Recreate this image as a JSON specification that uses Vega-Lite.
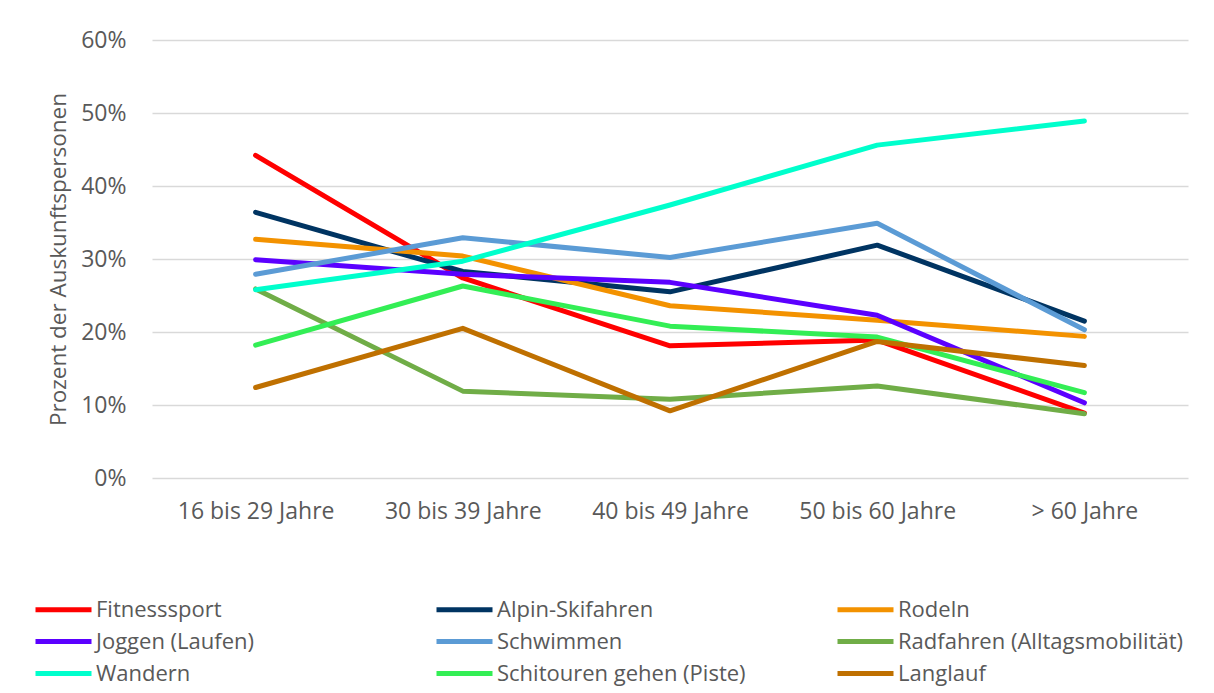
{
  "$schema": "https://vega.github.io/schema/vega-lite/v6.json",
  "width": 1036,
  "height": 438,
  "autosize": {"type": "none"},
  "padding": {"left": 152, "top": 40, "right": 26, "bottom": 215},
  "background": "white",
  "config": {
    "view": {"stroke": null},
    "font": "Open Sans",
    "axis": {"labelColor": "#595959", "titleColor": "#595959", "labelFont": "Open Sans", "titleFont": "Open Sans"},
    "legend": {"labelColor": "#595959", "labelFont": "Open Sans"}
  },
  "data": {
    "values": [
      {"Sport": "Fitnesssport", "Alter": "16 bis 29 Jahre", "Prozent": 44.2},
      {"Sport": "Fitnesssport", "Alter": "30 bis 39 Jahre", "Prozent": 27.4},
      {"Sport": "Fitnesssport", "Alter": "40 bis 49 Jahre", "Prozent": 18.1},
      {"Sport": "Fitnesssport", "Alter": "50 bis 60 Jahre", "Prozent": 18.9},
      {"Sport": "Fitnesssport", "Alter": "> 60 Jahre", "Prozent": 8.9},
      {"Sport": "Alpin-Skifahren", "Alter": "16 bis 29 Jahre", "Prozent": 36.4},
      {"Sport": "Alpin-Skifahren", "Alter": "30 bis 39 Jahre", "Prozent": 28.3},
      {"Sport": "Alpin-Skifahren", "Alter": "40 bis 49 Jahre", "Prozent": 25.5},
      {"Sport": "Alpin-Skifahren", "Alter": "50 bis 60 Jahre", "Prozent": 31.9},
      {"Sport": "Alpin-Skifahren", "Alter": "> 60 Jahre", "Prozent": 21.5},
      {"Sport": "Rodeln", "Alter": "16 bis 29 Jahre", "Prozent": 32.7},
      {"Sport": "Rodeln", "Alter": "30 bis 39 Jahre", "Prozent": 30.4},
      {"Sport": "Rodeln", "Alter": "40 bis 49 Jahre", "Prozent": 23.6},
      {"Sport": "Rodeln", "Alter": "50 bis 60 Jahre", "Prozent": 21.6},
      {"Sport": "Rodeln", "Alter": "> 60 Jahre", "Prozent": 19.4},
      {"Sport": "Joggen (Laufen)", "Alter": "16 bis 29 Jahre", "Prozent": 29.9},
      {"Sport": "Joggen (Laufen)", "Alter": "30 bis 39 Jahre", "Prozent": 27.9},
      {"Sport": "Joggen (Laufen)", "Alter": "40 bis 49 Jahre", "Prozent": 26.8},
      {"Sport": "Joggen (Laufen)", "Alter": "50 bis 60 Jahre", "Prozent": 22.3},
      {"Sport": "Joggen (Laufen)", "Alter": "> 60 Jahre", "Prozent": 10.3},
      {"Sport": "Schwimmen", "Alter": "16 bis 29 Jahre", "Prozent": 27.9},
      {"Sport": "Schwimmen", "Alter": "30 bis 39 Jahre", "Prozent": 32.9},
      {"Sport": "Schwimmen", "Alter": "40 bis 49 Jahre", "Prozent": 30.2},
      {"Sport": "Schwimmen", "Alter": "50 bis 60 Jahre", "Prozent": 34.9},
      {"Sport": "Schwimmen", "Alter": "> 60 Jahre", "Prozent": 20.3},
      {"Sport": "Radfahren (Alltagsmobilität)", "Alter": "16 bis 29 Jahre", "Prozent": 25.9},
      {"Sport": "Radfahren (Alltagsmobilität)", "Alter": "30 bis 39 Jahre", "Prozent": 11.9},
      {"Sport": "Radfahren (Alltagsmobilität)", "Alter": "40 bis 49 Jahre", "Prozent": 10.8},
      {"Sport": "Radfahren (Alltagsmobilität)", "Alter": "50 bis 60 Jahre", "Prozent": 12.6},
      {"Sport": "Radfahren (Alltagsmobilität)", "Alter": "> 60 Jahre", "Prozent": 8.8},
      {"Sport": "Wandern", "Alter": "16 bis 29 Jahre", "Prozent": 25.8},
      {"Sport": "Wandern", "Alter": "30 bis 39 Jahre", "Prozent": 29.7},
      {"Sport": "Wandern", "Alter": "40 bis 49 Jahre", "Prozent": 37.4},
      {"Sport": "Wandern", "Alter": "50 bis 60 Jahre", "Prozent": 45.6},
      {"Sport": "Wandern", "Alter": "> 60 Jahre", "Prozent": 48.9},
      {"Sport": "Schitouren gehen (Piste)", "Alter": "16 bis 29 Jahre", "Prozent": 18.2},
      {"Sport": "Schitouren gehen (Piste)", "Alter": "30 bis 39 Jahre", "Prozent": 26.3},
      {"Sport": "Schitouren gehen (Piste)", "Alter": "40 bis 49 Jahre", "Prozent": 20.8},
      {"Sport": "Schitouren gehen (Piste)", "Alter": "50 bis 60 Jahre", "Prozent": 19.3},
      {"Sport": "Schitouren gehen (Piste)", "Alter": "> 60 Jahre", "Prozent": 11.7},
      {"Sport": "Langlauf", "Alter": "16 bis 29 Jahre", "Prozent": 12.4},
      {"Sport": "Langlauf", "Alter": "30 bis 39 Jahre", "Prozent": 20.5},
      {"Sport": "Langlauf", "Alter": "40 bis 49 Jahre", "Prozent": 9.2},
      {"Sport": "Langlauf", "Alter": "50 bis 60 Jahre", "Prozent": 18.7},
      {"Sport": "Langlauf", "Alter": "> 60 Jahre", "Prozent": 15.4}
    ]
  },
  "mark": {"type": "line", "strokeWidth": 5, "strokeCap": "round", "strokeJoin": "round"},
  "encoding": {
    "x": {
      "field": "Alter",
      "type": "nominal",
      "sort": ["16 bis 29 Jahre", "30 bis 39 Jahre", "40 bis 49 Jahre", "50 bis 60 Jahre", "> 60 Jahre"],
      "scale": {"type": "point", "padding": 0.5},
      "axis": {
        "title": null,
        "labelAngle": 0,
        "labelFontSize": 23,
        "labelPadding": 22,
        "ticks": false,
        "domain": false,
        "grid": false
      }
    },
    "y": {
      "field": "Prozent",
      "type": "quantitative",
      "scale": {"domain": [0, 60], "nice": false},
      "axis": {
        "title": "Prozent der Auskunftspersonen",
        "titleFontSize": 22.5,
        "titleFontWeight": "normal",
        "titlePadding": 10,
        "values": [0, 10, 20, 30, 40, 50, 60],
        "labelExpr": "datum.value + '%'",
        "labelFontSize": 23,
        "labelPadding": 26,
        "ticks": false,
        "domain": false,
        "gridColor": "#D9D9D9",
        "gridWidth": 1.3
      }
    },
    "color": {
      "field": "Sport",
      "type": "nominal",
      "sort": ["Fitnesssport", "Alpin-Skifahren", "Rodeln", "Joggen (Laufen)", "Schwimmen", "Radfahren (Alltagsmobilität)", "Wandern", "Schitouren gehen (Piste)", "Langlauf"],
      "scale": {
        "domain": ["Fitnesssport", "Alpin-Skifahren", "Rodeln", "Joggen (Laufen)", "Schwimmen", "Radfahren (Alltagsmobilität)", "Wandern", "Schitouren gehen (Piste)", "Langlauf"],
        "range": ["#FF0000", "#003462", "#F39200", "#5B00FF", "#5B9BD5", "#70AD47", "#00FFCC", "#33EE55", "#BF7000"]
      },
      "legend": {
        "title": null,
        "orient": "none",
        "legendX": -101,
        "legendY": 557,
        "direction": "horizontal",
        "columns": 3,
        "gridAlign": "all",
        "columnPadding": 44,
        "rowPadding": 8,
        "symbolType": "M-2.8,0H2.8",
        "symbolSize": 400,
        "symbolStrokeWidth": 5,
        "labelOffset": 20,
        "labelFontSize": 22,
        "labelLimit": 400
      }
    }
  }
}
